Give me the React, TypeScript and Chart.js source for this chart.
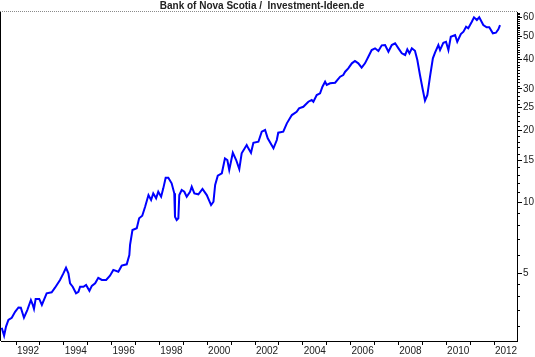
import React, { useEffect, useRef } from "react";
import { Chart, registerables } from "chart.js";

Chart.register(...registerables);

const TITLE = "Bank of Nova Scotia /  Investment-Ideen.de";

const years: number[] = [
  1991.40, 1991.50, 1991.58, 1991.68, 1991.82, 1991.96, 1992.10, 1992.20, 1992.33, 1992.47,
  1992.62, 1992.70, 1992.75, 1992.82, 1992.97, 1993.08, 1993.28, 1993.49, 1993.63, 1993.84,
  1993.98, 1994.09, 1994.19, 1994.26, 1994.37, 1994.51, 1994.61, 1994.68, 1994.82, 1994.93,
  1995.07, 1995.17, 1995.31, 1995.44, 1995.59, 1995.77, 1995.93, 1996.07, 1996.28, 1996.42,
  1996.63, 1996.74, 1996.77, 1996.87, 1997.05, 1997.15, 1997.28, 1997.40, 1997.54, 1997.65,
  1997.74, 1997.86, 1997.95, 1998.07, 1998.16, 1998.26, 1998.37, 1998.51, 1998.62, 1998.65,
  1998.72, 1998.79, 1998.83, 1998.93, 1999.04, 1999.14, 1999.28, 1999.35, 1999.46, 1999.63,
  1999.80, 1999.98, 2000.16, 2000.26, 2000.33, 2000.44, 2000.61, 2000.74, 2000.84, 2000.92,
  2001.07, 2001.21, 2001.34, 2001.44, 2001.65, 2001.72, 2001.83, 2001.93, 2002.14, 2002.28,
  2002.42, 2002.53, 2002.77, 2002.91, 2002.97, 2003.18, 2003.33, 2003.54, 2003.74, 2003.84,
  2004.02, 2004.23, 2004.37, 2004.44, 2004.58, 2004.72, 2004.82, 2004.93, 2005.00, 2005.14,
  2005.35, 2005.56, 2005.69, 2005.77, 2005.90, 2006.05, 2006.18, 2006.32, 2006.46, 2006.60,
  2006.74, 2006.88, 2007.02, 2007.16, 2007.30, 2007.44, 2007.58, 2007.72, 2007.86, 2008.00,
  2008.14, 2008.28, 2008.37, 2008.46, 2008.56, 2008.69, 2008.79, 2008.90, 2009.02, 2009.11,
  2009.21, 2009.32, 2009.44, 2009.53, 2009.67, 2009.74, 2009.88, 2009.99, 2010.09, 2010.19,
  2010.37, 2010.46, 2010.61, 2010.72, 2010.83, 2010.92, 2011.07, 2011.16, 2011.28, 2011.38,
  2011.55, 2011.69, 2011.80, 2011.95, 2012.08, 2012.18, 2012.25,
];

const prices: number[] = [
  2.95, 2.73, 2.98, 3.18, 3.25, 3.44, 3.59, 3.58, 3.25, 3.50,
  3.86, 3.68, 3.54, 3.90, 3.90, 3.68, 4.12, 4.16, 4.35, 4.69,
  5.00, 5.28, 5.00, 4.54, 4.39, 4.12, 4.18, 4.39, 4.39, 4.47,
  4.22, 4.43, 4.54, 4.79, 4.69, 4.69, 4.89, 5.17, 5.08, 5.39,
  5.46, 5.98, 6.59, 7.62, 7.75, 8.54, 8.75, 9.55, 10.70, 10.20,
  10.88, 10.37, 11.05, 10.53, 11.42, 12.66, 12.66, 11.99, 10.88, 8.67,
  8.40, 8.54, 10.70, 11.24, 11.05, 10.53, 11.05, 11.60, 10.88, 10.78,
  11.35, 10.70, 9.71, 10.03, 11.80, 12.91, 13.22, 15.29, 15.04, 13.65,
  16.14, 15.04, 13.78, 16.05, 17.40, 16.85, 16.14, 17.79, 17.97, 19.80,
  20.13, 18.57, 16.85, 18.26, 19.61, 19.80, 21.48, 23.28, 24.04, 24.85,
  25.23, 26.50, 26.94, 26.50, 28.29, 28.75, 30.66, 32.19, 31.17, 31.68,
  31.87, 33.79, 34.35, 35.47, 36.66, 38.48, 39.36, 38.48, 36.88, 38.48,
  41.03, 43.79, 44.52, 43.36, 45.83, 45.96, 43.06, 45.96, 46.74, 44.52,
  42.41, 41.72, 44.09, 42.41, 44.52, 43.48, 39.74, 34.35, 29.69, 26.76,
  28.29, 33.79, 40.40, 42.66, 45.96, 43.79, 47.02, 47.47, 43.79, 49.84,
  50.66, 47.47, 51.17, 52.33, 54.93, 54.08, 57.67, 60.18, 58.62, 60.18,
  55.83, 54.60, 54.60, 51.51, 51.81, 53.56, 55.83,
];

const xTickYears: number[] = [
  1992, 1993, 1994, 1995, 1996, 1997, 1998, 1999, 2000, 2001, 2002,
  2003, 2004, 2005, 2006, 2007, 2008, 2009, 2010, 2011, 2012,
];
const xLabelYears: number[] = [1992, 1994, 1996, 1998, 2000, 2002, 2004, 2006, 2008, 2010, 2012];

const yLabelValues: number[] = [5, 10, 15, 20, 25, 30, 40, 50, 60];
const yMinorValues: number[] = [
  3, 3.5, 4, 4.5, 6, 7, 8, 9, 11, 12, 13, 14, 16, 17, 18, 19, 21, 22, 23, 24,
  26, 27, 28, 29, 31, 32, 33, 34, 35, 36, 37, 38, 39, 41, 42, 43, 44, 45, 46, 47, 48, 49,
  51, 52, 53, 54, 55, 56, 57, 58, 59, 61, 62, 63,
];

const X_MIN = 1991.37;
const X_MAX = 2012.96;
const Y_MIN = 2.592;
const Y_MAX = 63.36;

const FONT = "'Liberation Sans', Arial, sans-serif";

const framePlugin = {
  id: "frame",
  afterDraw(chart: any) {
    const { ctx, chartArea } = chart;
    const { left, right, top, bottom } = chartArea;
    ctx.save();
    // left border
    ctx.strokeStyle = "#000";
    ctx.lineWidth = 1;
    ctx.beginPath();
    ctx.moveTo(left - 0.5, top);
    ctx.lineTo(left - 0.5, bottom);
    ctx.stroke();
    // top dotted border
    ctx.strokeStyle = "#8a8a8a";
    ctx.setLineDash([1, 1]);
    ctx.beginPath();
    ctx.moveTo(0, top - 0.5);
    ctx.lineTo(right, top - 0.5);
    ctx.stroke();
    ctx.setLineDash([]);
    // minor y ticks
    const ys = chart.scales.y;
    ctx.strokeStyle = "#000";
    ctx.beginPath();
    for (const v of yMinorValues) {
      const py = Math.round(ys.getPixelForValue(v)) + 0.5;
      ctx.moveTo(right, py);
      ctx.lineTo(right + 3, py);
    }
    ctx.stroke();
    // title
    ctx.fillStyle = "#222";
    ctx.font = "bold 10px " + FONT;
    ctx.textAlign = "center";
    ctx.textBaseline = "middle";
    ctx.fillText(TITLE, (left + right) / 2 + 3, 6);
    ctx.restore();
  },
};

export default function App() {
  const ref = useRef<HTMLCanvasElement | null>(null);
  useEffect(() => {
    if (!ref.current) return;
    const data = years.map((x, i) => ({ x, y: prices[i] }));
    const chart = new Chart(ref.current, {
      type: "line",
      data: {
        datasets: [
          {
            data,
            borderColor: "#0000ff",
            borderWidth: 2,
            pointRadius: 0,
            tension: 0,
            fill: false,
          },
        ],
      },
      options: {
        animation: false,
        responsive: false,
        parsing: false as any,
        layout: { padding: { left: 1, top: 12, right: 0, bottom: 0 } },
        plugins: {
          legend: { display: false },
          title: { display: false },
          tooltip: { enabled: false },
        },
        scales: {
          x: {
            type: "linear",
            min: X_MIN,
            max: X_MAX,
            afterBuildTicks(scale: any) {
              const t: any[] = [];
              for (const yr of xTickYears) t.push({ value: yr });
              for (const yr of xLabelYears) t.push({ value: yr + 0.5 });
              t.sort((a, b) => a.value - b.value);
              scale.ticks = t;
            },
            afterFit(scale: any) {
              scale.height = 16;
            },
            grid: {
              drawOnChartArea: false,
              drawTicks: true,
              tickLength: 4,
              tickColor: (c: any) =>
                c.tick && Number.isInteger(c.tick.value) ? "#000" : "rgba(0,0,0,0)",
            },
            border: { display: true, color: "#000", width: 1 },
            ticks: {
              autoSkip: false,
              maxRotation: 0,
              minRotation: 0,
              padding: 0,
              color: "#222",
              font: { family: FONT, size: 10 },
              callback: (v: any) => {
                const n = Number(v);
                return Number.isInteger(n) ? "" : String(Math.floor(n));
              },
            },
          },
          y: {
            type: "logarithmic",
            position: "right",
            min: Y_MIN,
            max: Y_MAX,
            afterBuildTicks(scale: any) {
              scale.ticks = yLabelValues.map((v) => ({ value: v }));
            },
            afterFit(scale: any) {
              scale.width = 18;
            },
            grid: {
              drawOnChartArea: false,
              drawTicks: true,
              tickLength: 5,
              tickColor: "#000",
            },
            border: { display: true, color: "#000", width: 1 },
            ticks: {
              autoSkip: false,
              padding: 1,
              color: "#222",
              font: { family: FONT, size: 10 },
              callback: (v: any) => String(v),
            },
          },
        },
      },
      plugins: [framePlugin],
    });
    return () => chart.destroy();
  }, []);
  return (
    <div style={{ position: "absolute", left: 0, top: 0, width: 535, height: 357, background: "#fff" }}>
      <canvas ref={ref} width={535} height={357} style={{ display: "block" }} />
    </div>
  );
}
